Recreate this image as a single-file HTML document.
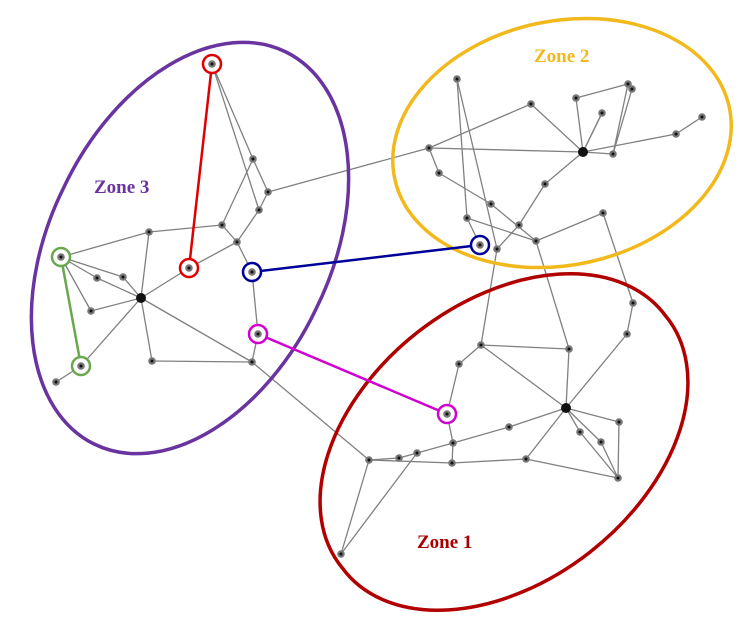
<!DOCTYPE html>
<html><head><meta charset="utf-8">
<style>
html,body{margin:0;padding:0;background:#fff;width:751px;height:621px;overflow:hidden;}
svg{display:block;}
text{font-family:"Liberation Serif",serif;font-weight:bold;font-size:19px;}
</style></head>
<body>
<svg id="chart" width="751" height="621" viewBox="0 0 751 621">
  <g id="edges"></g>
  <g id="zones">
    <path d="M315.8,309.4 A140,215 26 1 1 64.2,186.6 A140,215 26 1 1 315.8,309.4 Z" fill="none" stroke="#6a34a0" stroke-width="3.5"/>
    <path d="M729.3,107.4 A171,122 -12 1 1 394.7,178.6 A171,122 -12 1 1 729.3,107.4 Z" fill="none" stroke="#f2b91c" stroke-width="3.5"/>
    <path d="M665.5,315.8 A205,137 -38 1 1 342.5,568.2 A205,137 -38 1 1 665.5,315.8 Z" fill="none" stroke="#b00000" stroke-width="3.5"/>
  </g>
  <g id="links"></g>
  <g id="nodes"></g>
  <text x="94" y="193" fill="#6a34a0">Zone 3</text>
  <text x="534" y="62" fill="#f0b91d">Zone 2</text>
  <text x="417" y="548" fill="#a80000">Zone 1</text>
</svg>
<script>
const nodeIds = ["top","a","b","c","d","e","f","g","h","i","hub3","red","blue","mag","j","k","l","m","n",
 "p1","p2","p3","p4","p5","p6","p7","p8","hub2","p9","q1","q2","q3","q4","q5","q6","q7","q8","blue2","q9",
 "r1","r2","r3","r4","r5","mag2","hub1","r6","r7","r8","r9","r10","r11","r12","r13","r14","r15","r16","r17"];
const nodeX = [212,253,268,259,222,237,149,61,97,123,141,189,252,258,91,81,56,152,252,
 457,531,576,628,632,602,702,676,583,613,429,439,545,491,467,519,603,536,480,497,
 633,627,481,569,459,447,566,509,619,580,601,453,369,399,417,452,526,618,341];
const nodeY = [64,159,192,210,225,242,232,257,278,277,298,268,272,334,311,366,382,361,362,
 79,104,98,84,89,113,117,134,152,154,148,173,184,204,218,225,213,241,245,249,
 303,334,345,349,364,414,408,427,422,432,442,443,460,458,453,463,459,478,554];
const hubs = ["hub1","hub2","hub3"];
const edgeFrom = ["top","top","a","b","a","c","d","d","f","f","e","red","e","blue","mag","g","h","g","i","g","j","hub3","k","hub3","m","hub3","b","n",
 "p1","p1","q1","q1","q2","q4","q5","q5","p2","p3","p3","p4","p5","hub2","hub2","p8","hub2","hub2","q3","q6","hub2","q7","q9","q8","q7","q1",
 "r1","r2","r3","r3","r4","r3","r5","mag2","r10","r13","r10","r6","r11","r12","r11","r14","r15","r15","hub1","r7","hub1","r8","hub1","r9","r11","r13"];
const edgeTo = ["a","c","b","c","d","e","e","f","g","hub3","red","hub3","blue","mag","n","h","hub3","i","hub3","j","hub3","k","l","m","n","n","q1","r11",
 "q5","q9","hub2","q2","q4","q8","q8","blue2","hub2","hub2","p4","p9","p9","p6","p6","p7","p8","p9","q6","q9","q3","q8","r3","r4","r1","p2",
 "r2","hub1","r4","hub1","hub1","r5","mag2","r10","r14","r10","r6","hub1","r12","r13","r14","r15","hub1","r16","r7","r16","r8","r16","r9","r16","r17","r17"];
const linkFrom = ["top","blue","mag","g"];
const linkTo = ["red","blue2","mag2","k"];
const linkColor = ["#e00000","#000099","#d000d0","#6aa84f"];

const NS="http://www.w3.org/2000/svg";
const px = id => nodeX[nodeIds.indexOf(id)];
const py = id => nodeY[nodeIds.indexOf(id)];
const gE=document.getElementById('edges'), gL=document.getElementById('links'), gN=document.getElementById('nodes');
edgeFrom.forEach((f,k)=>{
  const l=document.createElementNS(NS,'line');
  
  
  l.setAttribute('x1',px(f));l.setAttribute('y1',py(f));
  l.setAttribute('x2',px(edgeTo[k]));l.setAttribute('y2',py(edgeTo[k]));
  l.setAttribute('stroke','#808080');l.setAttribute('stroke-width','1.3');
  gE.appendChild(l);
});
linkFrom.forEach((f,k)=>{
  const l=document.createElementNS(NS,'line');
  
  
  l.setAttribute('x1',px(f));l.setAttribute('y1',py(f));
  l.setAttribute('x2',px(linkTo[k]));l.setAttribute('y2',py(linkTo[k]));
  l.setAttribute('stroke',linkColor[k]);l.setAttribute('stroke-width','2.5');
  gL.appendChild(l);
  [f,linkTo[k]].forEach(id=>{
    const c=document.createElementNS(NS,'circle');
    
    
    c.setAttribute('cx',px(id));c.setAttribute('cy',py(id));c.setAttribute('r','9');
    c.setAttribute('fill','#fff');c.setAttribute('stroke',linkColor[k]);c.setAttribute('stroke-width','2.5');
    gL.appendChild(c);
  });
});
nodeIds.forEach((id,k)=>{
  const hub=hubs.includes(id);
  const c=document.createElementNS(NS,'circle');
  
  
  c.setAttribute('cx',nodeX[k]);c.setAttribute('cy',nodeY[k]);
  c.setAttribute('r',hub?5:3.8);
  c.setAttribute('fill',hub?'#111':'#777');
  gN.appendChild(c);
  const d=document.createElementNS(NS,'circle');
  
  
  d.setAttribute('cx',nodeX[k]);d.setAttribute('cy',nodeY[k]);d.setAttribute('r',1.5);
  d.setAttribute('fill','#111');
  gN.appendChild(d);
});
</script>
</body></html>
